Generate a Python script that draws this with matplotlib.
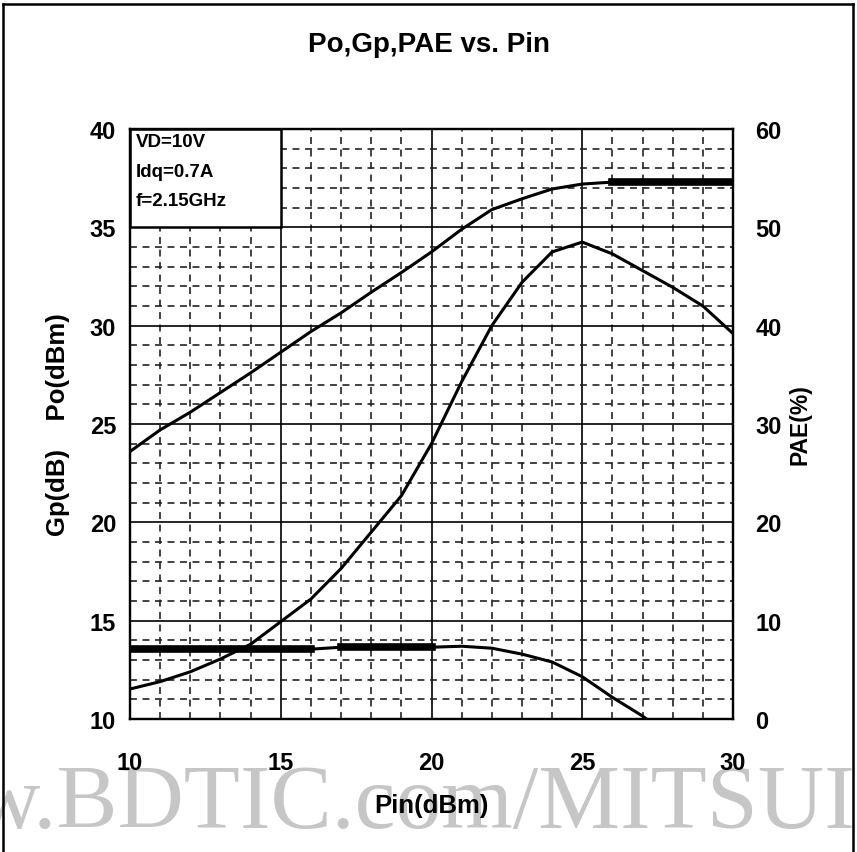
import matplotlib.pyplot as plt
import matplotlib.patches as patches
from matplotlib.lines import Line2D
from matplotlib.ticker import MultipleLocator

plt.rcParams['font.family'] = ['Liberation Sans', 'DejaVu Sans']
plt.rcParams['lines.scale_dashes'] = False

# data
pin = [10, 11, 12, 13, 14, 15, 16, 17, 18, 19, 20, 21, 22, 23, 24, 25, 26, 27, 28, 29, 30]
po = [23.6, 24.7, 25.6, 26.6, 27.6, 28.65, 29.7, 30.65, 31.7, 32.7, 33.75, 34.9, 35.9, 36.45,
      36.95, 37.2, 37.3, 37.3, 37.3, 37.3, 37.3]
gp = [13.55, 13.55, 13.55, 13.55, 13.55, 13.55, 13.55, 13.65, 13.65, 13.65, 13.65, 13.7, 13.6,
      13.3, 12.9, 12.15, 11.1, 10.15, 9.0]
pae = [3.05, 3.8, 4.8, 6.1, 7.6, 9.9, 12.2, 15.3, 19.0, 22.7, 28.0, 34.3, 40.0, 44.4, 47.5,
       48.5, 47.3, 45.6, 43.9, 42.0, 39.2]
notes = ['VD=10V', 'Idq=0.7A', 'f=2.15GHz']

fig = plt.figure(figsize=(8.57, 8.53), dpi=100)
ax = fig.add_axes([130/857, 1-720/853, 603/857, 590/853])

# watermark
fig.text(0.4837, 1-828/853, 'w.BDTIC.com/MITSUI', family='Liberation Serif', fontsize=66.2,
         color='#c6c6c6', ha='center', va='baseline', zorder=-1)

ax.set_xlim(10, 30)
ax.set_ylim(10, 40)
ax.xaxis.set_major_locator(MultipleLocator(5))
ax.yaxis.set_major_locator(MultipleLocator(5))
ax.xaxis.set_minor_locator(MultipleLocator(1))
ax.yaxis.set_minor_locator(MultipleLocator(1))
ax.grid(which='major', color='black', lw=1.2, ls='-')
ax.grid(which='minor', color='#222222', lw=1.2, ls=(0, (5, 4)))
ax.set_axisbelow(True)
ax.tick_params(which='both', length=0)
ax.tick_params(axis='x', pad=23, labelsize=17)
ax.tick_params(axis='y', pad=10, labelsize=17)
for lab in ax.get_xticklabels() + ax.get_yticklabels():
    lab.set_fontweight('bold')
for s in ax.spines.values():
    s.set_linewidth(1.6)

ax.plot(pin, po, color='black', lw=2.2, zorder=5)
ax.plot(pin[16:], po[16:], color='black', lw=5.5, zorder=5)
ax.plot(pin[:len(gp)], gp, color='black', lw=2.2, zorder=5)
ax.plot(pin[:7], gp[:7], color='black', lw=5.5, zorder=5)
ax.plot(pin[7:11], gp[7:11], color='black', lw=5.5, zorder=5)

ax2 = ax.twinx()
ax2.set_ylim(0, 60)
ax2.yaxis.set_major_locator(MultipleLocator(10))
ax2.tick_params(length=0, pad=16, labelsize=17)
for lab in ax2.get_yticklabels():
    lab.set_fontweight('bold')
for s in ax2.spines.values():
    s.set_linewidth(1.6)
ax2.plot(pin, pae, color='black', lw=2.2, zorder=5)

# note box
box = patches.Rectangle((10, 35), 5, 5, facecolor='white', edgecolor='black', lw=1.8, zorder=4)
ax.add_patch(box)
for i, t in enumerate(notes):
    ax.text(10.2, 39.34 - i * 1.5, t, fontsize=13.5, fontweight='bold', va='center',
            ha='left', zorder=6)

ax.set_xlabel('Pin(dBm)', fontsize=18.5, fontweight='bold', labelpad=14)
ax.set_ylabel('Gp(dB)    Po(dBm)', fontsize=18.5, fontweight='bold')
ax.yaxis.set_label_coords(-0.0997, 0.5)
ax2.set_ylabel('PAE(%)', fontsize=16.5, fontweight='bold')
ax2.yaxis.set_label_coords(1.0913, 0.5)

fig.text(0.5, 1-45/853, 'Po,Gp,PAE vs. Pin', fontsize=20, fontweight='bold',
         ha='center', va='center')

# frame around the figure
for xs, ys in [([3/857, 3/857], [0, 1-5/853]), ([3/857, 853/857], [1-5/853, 1-5/853]),
               ([853/857, 853/857], [1-5/853, 0])]:
    fig.add_artist(Line2D(xs, ys, color='black', lw=1.8))

fig.savefig('out.png', dpi=100)
